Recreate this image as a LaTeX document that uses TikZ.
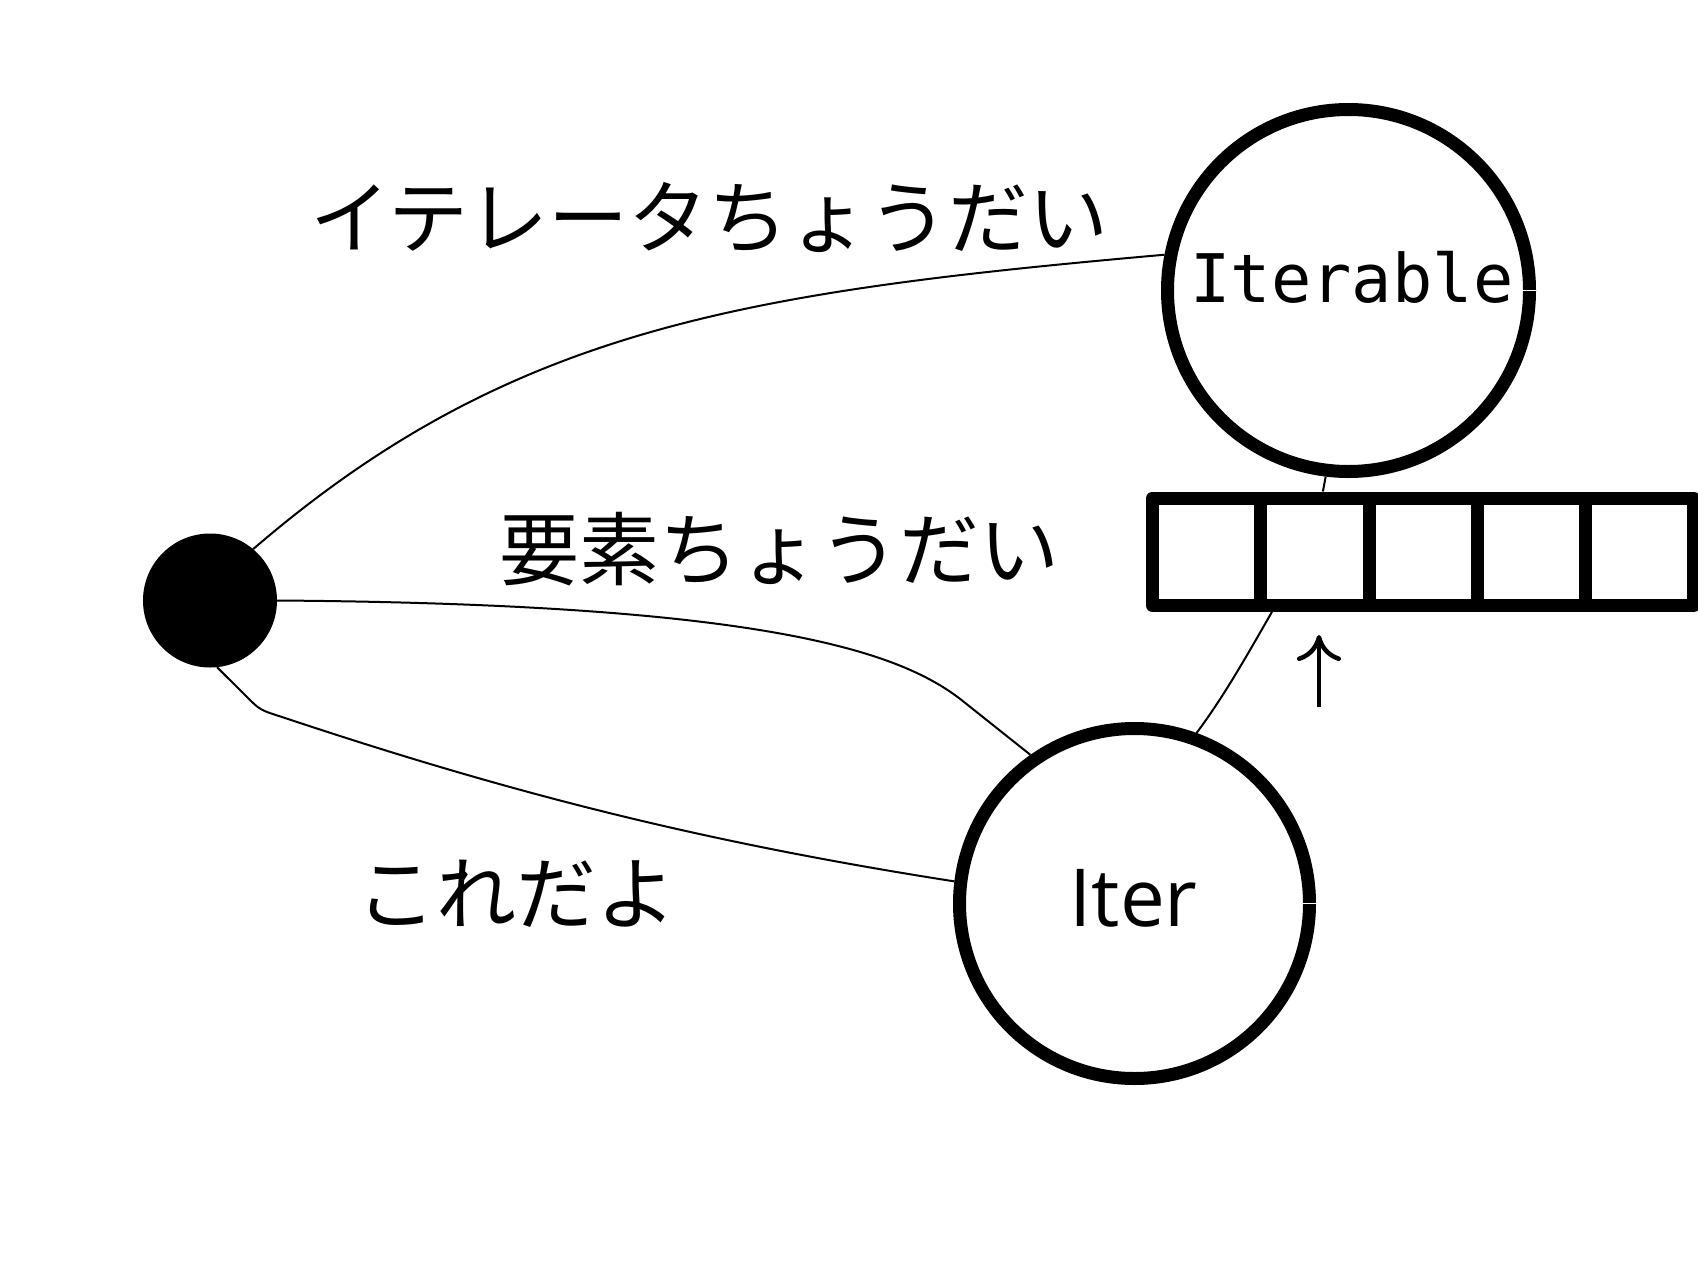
\documentclass[tikz,border=0pt]{standalone}
\usepackage{fontspec}
\newfontfamily\cjk{Noto Sans CJK JP}
\newfontfamily\monof{DejaVu Sans Mono}
\newfontfamily\isans{Open Sans}
\usetikzlibrary{arrows.meta}
\begin{document}
\begin{tikzpicture}[x=1pt,y=-1pt,
  bigcirc/.style={circle,draw=black,line width=13pt,fill=white,inner sep=0pt},
  cellbox/.style={rectangle,draw=black,line width=13pt,line join=round,minimum width=108.3pt,minimum height=107.5pt,inner sep=0pt},
  conn/.style={draw=black,line width=2pt},
  jp/.style={font=\cjk\fontsize{80pt}{96pt}\selectfont,inner sep=0pt},
  gapline/.style={draw=white,line width=1.8pt}
]
\useasboundingbox[fill=white] (0,0) rectangle (1698,1274);

% nodes
\node[circle,fill=black,minimum size=134pt,inner sep=0pt,outer sep=0pt] (dot) at (210,600.5) {};
\node[bigcirc,minimum size=362pt] (iterable) at (1348.5,290.5) {};
\node[bigcirc,minimum size=350pt] (iter) at (1134.5,903.5) {};

\node[cellbox] (c1) at (1206.6,551.75) {};
\node[cellbox] (c2) at (1314.9,551.75) {};
\node[cellbox] (c3) at (1423.2,551.75) {};
\node[cellbox] (c4) at (1531.4,551.75) {};
\node[cellbox] (c5) at (1639.7,551.75) {};

% texts
\node[anchor=base,inner sep=0pt,font=\monof\fontsize{67pt}{80pt}\selectfont] (tIterable) at (1352,302) {Iterable};
\node[anchor=base,inner sep=0pt,font=\isans\fontsize{80pt}{96pt}\selectfont] (tIter) at (1133.5,926) {Iter};
\node[jp] (l1) at (709.5,217.5) {イテレータちょうだい};
\node[jp] (l2) at (779,549) {要素ちょうだい};
\node[jp] (l3) at (516,893.5) {これだよ};

% gaps at the east of the circles
\draw[gapline] ([xshift=-15pt]iterable.east) -- ([xshift=1pt]iterable.east);
\draw[gapline] ([xshift=-15pt]iter.east) -- ([xshift=1pt]iter.east);

% connectors
\draw[conn] (dot.50) .. controls (510,328) and (744,292) .. (iterable.169);
\draw[conn] (dot.east) .. controls (760,604) and (900,650) .. (964,702) -- (iter.125);
\draw[conn] (dot.-84) -- (247,697) .. controls (260,710) .. (282,717)
  .. controls (516,795) and (706,842.5) .. (iter.173);
\draw[conn] (iterable.263) -- ([xshift=8pt]c2.north);
\draw[conn] ([xshift=-43pt]c2.south) .. controls (1250,650) and (1225,695) .. (iter.70);

% pointer arrow
\coordinate (ptrB) at (1319,707);
\coordinate (ptrT) at (1319,635);
\draw[line width=4.5pt,-{Computer Modern Rightarrow[length=26pt,width=44pt]}] (ptrB) -- (ptrT);
\end{tikzpicture}
\end{document}
